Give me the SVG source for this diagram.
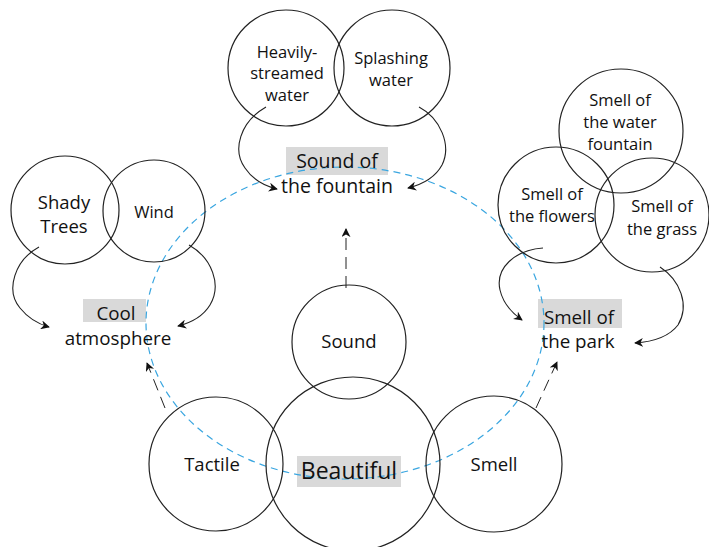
<svg xmlns="http://www.w3.org/2000/svg" width="709" height="547" viewBox="0 0 709 547">
<style>
.c{fill:none;stroke:#222;stroke-width:1.2}
.t{font-family:"Open Sans","Noto Sans",sans-serif;fill:#111;text-anchor:middle}
.s15{font-size:16.5px}
.s17{font-size:18.5px}
.s18{font-size:18.8px}
.hl{fill:#d9d9d9}
.arr{fill:none;stroke:#222;stroke-width:1.1}
.dash{fill:none;stroke:#222;stroke-width:1;stroke-dasharray:12 7}
.blue{fill:none;stroke:#3aa6e0;stroke-width:1.2;stroke-dasharray:7 5}
</style>
<defs>
<marker id="ah" viewBox="0 0 10 10" refX="9" refY="5" markerWidth="9" markerHeight="9" markerUnits="userSpaceOnUse" orient="auto">
<path d="M0,0 L10,5 L0,10 L3,5 Z" fill="#111"/>
</marker>
</defs>
<rect width="709" height="547" fill="#fff"/>
<g id="highlights">
<rect class="hl" x="286" y="147" width="102" height="28"/>
<rect class="hl" x="83" y="299" width="63" height="23"/>
<rect class="hl" x="538" y="299" width="84" height="29"/>
<rect class="hl" x="297" y="456" width="104" height="31"/>
</g>
<ellipse class="blue" cx="345" cy="323" rx="199" ry="156"/>
<g id="heavily"><circle class="c" cx="286" cy="68" r="58"/><text class="t s15"><tspan x="287" y="58">Heavily-</tspan><tspan x="287" y="79">streamed</tspan><tspan x="287" y="101">water</tspan></text></g>
<g id="splashing"><circle class="c" cx="392" cy="68" r="58"/><text class="t s15"><tspan x="391" y="64">Splashing</tspan><tspan x="391" y="86">water</tspan></text></g>
<g id="fountain"><text class="t" style="font-size:19.5px"><tspan x="337" y="168">Sound of</tspan><tspan x="337" y="193">the fountain</tspan></text></g>
<g id="shady"><circle class="c" cx="65" cy="210" r="54"/><text class="t s17"><tspan x="64" y="209">Shady</tspan><tspan x="64" y="233">Trees</tspan></text></g>
<g id="wind"><circle class="c" cx="154" cy="211" r="51"/><text class="t s15" x="154" y="218">Wind</text></g>
<g id="cool"><text class="t s18"><tspan x="116" y="320">Cool</tspan><tspan x="118" y="345">atmosphere</tspan></text></g>
<g id="waterfountain"><circle class="c" cx="621" cy="131" r="62"/><text class="t s15"><tspan x="620" y="106">Smell of</tspan><tspan x="620" y="128">the water</tspan><tspan x="620" y="150">fountain</tspan></text></g>
<g id="flowers"><circle class="c" cx="556" cy="205" r="58"/><text class="t s15"><tspan x="552" y="200">Smell of</tspan><tspan x="552" y="222">the flowers</tspan></text></g>
<g id="grass"><circle class="c" cx="652" cy="215" r="57"/><text class="t s15"><tspan x="662" y="212">Smell of</tspan><tspan x="662" y="235">the grass</tspan></text></g>
<g id="park"><text class="t s18"><tspan x="579" y="324">Smell of</tspan><tspan x="578" y="348">the park</tspan></text></g>
<g id="sound"><circle class="c" cx="349" cy="342" r="57"/><text class="t s17" x="349" y="348">Sound</text></g>
<g id="tactile"><circle class="c" cx="216" cy="464" r="67"/><text class="t s17" x="212" y="471">Tactile</text></g>
<g id="beautiful"><circle class="c" cx="353" cy="464" r="87"/><text class="t" style="font-size:23px" x="349" y="479">Beautiful</text></g>
<g id="smell"><circle class="c" cx="494" cy="464" r="68"/><text class="t s17" x="494" y="471">Smell</text></g>
<g id="connectors">
<path class="arr" marker-end="url(#ah)" d="M266,107 C240,122 232,150 245,168 C253,180 265,186 277,189"/>
<path class="arr" marker-end="url(#ah)" d="M419,107 C440,118 452,145 442,165 C435,178 420,185 408,188"/>
<path class="arr" marker-end="url(#ah)" d="M39,247 C15,260 5,290 20,308 C28,318 38,324 49,327"/>
<path class="arr" marker-end="url(#ah)" d="M189,245 C212,258 222,285 210,305 C202,318 190,323 178,326"/>
<path class="arr" marker-end="url(#ah)" d="M543,248 C515,250 495,268 500,290 C503,303 512,313 522,320"/>
<path class="arr" marker-end="url(#ah)" d="M660,267 C680,280 690,305 678,325 C668,338 650,342 635,343"/>
<path class="dash" marker-end="url(#ah)" d="M346,288 L346,229"/>
<path class="dash" marker-end="url(#ah)" d="M165,408 L147,363"/>
<path class="dash" marker-end="url(#ah)" d="M536,408 L557,362"/>
</g>
</svg>
